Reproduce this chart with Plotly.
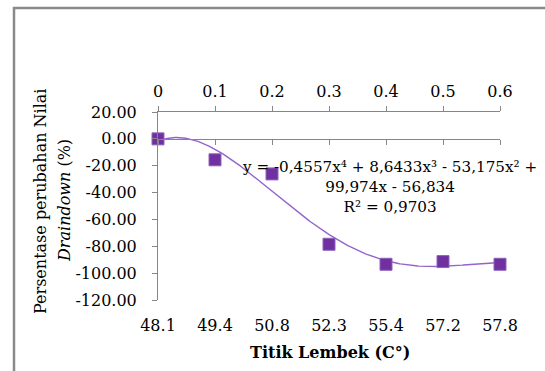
import numpy as np
import plotly.graph_objects as go

# Softening point categories (°C) and change in draindown value (%)
softening_points = ["48.1", "49.4", "50.8", "52.3", "55.4", "57.2", "57.8"]
draindown_change = [0.0, -15.6, -26.1, -78.5, -93.4, -91.4, -93.4]

# Secondary (top) axis ticks
top_ticks = [0, 0.1, 0.2, 0.3, 0.4, 0.5, 0.6]

# Value axis ticks
y_ticks = [20, 0, -20, -40, -60, -80, -100, -120]

# 4th-order polynomial trendline (highest power first) and its R²
trend_coeffs = [-0.4557, 8.6433, -53.175, 99.974, -56.834]
r_squared = 0.9703

# ---------------------------------------------------------------------------
W, H = 545, 371
L, R, T, B = 158, 45, 112, 71
PW, PH = W - L - R, H - T - B


def px_x(px):
    return (px - L) / PW


def px_y(py):
    return (H - B - py) / PH


FONT = "DejaVu Serif"
AXIS_GREY = "#868686"
PURPLE = "#7030A0"

positions = list(range(1, len(softening_points) + 1))
y_min, y_max = min(y_ticks), max(y_ticks)


def num(v):
    return f"{abs(v):g}".replace(".", ",")


def signed(v):
    return ("- " if v < 0 else "+ ") + num(v)


c4, c3, c2, c1, c0 = trend_coeffs
eq_line1 = ("y = " + ("-" if c4 < 0 else "") + num(c4) + "x⁴ " + signed(c3)
            + "x³ " + signed(c2) + "x² " + ("+" if c1 >= 0 else "-"))
eq_line2 = f"{num(c1)}x " + signed(c0)
eq_line3 = "R² = " + num(r_squared)
equation_text = "<br>".join([eq_line1, eq_line2, eq_line3])

x_dense = np.linspace(positions[0], positions[-1], 300)
y_dense = np.polyval(trend_coeffs, x_dense)

fig = go.Figure()
fig.add_trace(go.Scatter(
    x=x_dense, y=y_dense, mode="lines",
    line=dict(color="#9463CC", width=1.4),
    hoverinfo="skip", showlegend=False,
))
fig.add_trace(go.Scatter(
    x=positions, y=draindown_change, mode="markers",
    marker=dict(symbol="square", size=12, color=PURPLE,
                line=dict(color="#8E62BC", width=1)),
    cliponaxis=False, showlegend=False,
))
# invisible helpers so the extra horizontal axes are rendered
fig.add_trace(go.Scatter(x=[top_ticks[0]], y=[y_min], xaxis="x2",
                         mode="markers", marker=dict(opacity=0),
                         hoverinfo="skip", showlegend=False))
fig.add_trace(go.Scatter(x=[positions[0]], y=[y_min], xaxis="x3",
                         mode="markers", marker=dict(opacity=0),
                         hoverinfo="skip", showlegend=False))

tick_font = dict(family=FONT, size=16, color="#000000")

fig.update_layout(
    width=W, height=H,
    margin=dict(l=L, r=R, t=T, b=B, pad=0),
    paper_bgcolor="white", plot_bgcolor="white",
    xaxis=dict(
        domain=[0, 1], range=[positions[0], positions[-1]],
        tickmode="array", tickvals=positions, ticktext=softening_points,
        showline=False, ticks="", showgrid=False, zeroline=False,
        tickfont=tick_font, ticklabelstandoff=14,
    ),
    xaxis2=dict(
        overlaying="x", side="top", anchor="y",
        range=[top_ticks[0], top_ticks[-1]],
        tickmode="array", tickvals=top_ticks,
        ticktext=[f"{t:g}" for t in top_ticks],
        showline=True, linecolor=AXIS_GREY, linewidth=1,
        ticks="outside", ticklen=5, tickcolor=AXIS_GREY, tickwidth=1,
        showgrid=False, zeroline=False,
        tickfont=tick_font, ticklabelstandoff=3,
    ),
    xaxis3=dict(
        overlaying="x", side="bottom", anchor="free",
        position=(0 - y_min) / (y_max - y_min),
        range=[positions[0], positions[-1]],
        tickmode="array", tickvals=positions, showticklabels=False,
        showline=True, linecolor=AXIS_GREY, linewidth=1,
        ticks="outside", ticklen=5, tickcolor=AXIS_GREY, tickwidth=1,
        showgrid=False, zeroline=False,
    ),
    yaxis=dict(
        domain=[0, 1], range=[y_min, y_max],
        tickmode="array", tickvals=y_ticks,
        ticktext=[f"{v:.2f}" for v in y_ticks],
        showline=True, linecolor=AXIS_GREY, linewidth=1,
        ticks="outside", ticklen=5, tickcolor=AXIS_GREY, tickwidth=1,
        showgrid=False, zeroline=False,
        tickfont=tick_font, ticklabelstandoff=12,
    ),
    shapes=[dict(
        type="rect", xref="paper", yref="paper", layer="below",
        x0=px_x(14), x1=px_x(W + 20), y0=px_y(H + 20), y1=px_y(8),
        line=dict(color="#8A8A8A", width=2.5), fillcolor="rgba(0,0,0,0)",
    )],
)

ann_font = dict(family=FONT, size=16, color="#000000")
annotations = [
    dict(text="Persentase perubahan Nilai", x=px_x(40), y=px_y(202),
         textangle=-90, font=ann_font),
    dict(text="<i>Draindown</i> (%)", x=px_x(64), y=px_y(201),
         textangle=-90, font=ann_font),
    dict(text=equation_text, x=px_x(389), y=px_y(186.5), align="center",
         font=dict(family=FONT, size=15.2, color="#000000")),
    dict(text="<b>Titik Lembek (C°)</b>", x=px_x(330), y=px_y(352),
         font=ann_font),
]
for a in annotations:
    fig.add_annotation(xref="paper", yref="paper", xanchor="center",
                       yanchor="middle", showarrow=False, **a)

fig.write_html("out.html")
